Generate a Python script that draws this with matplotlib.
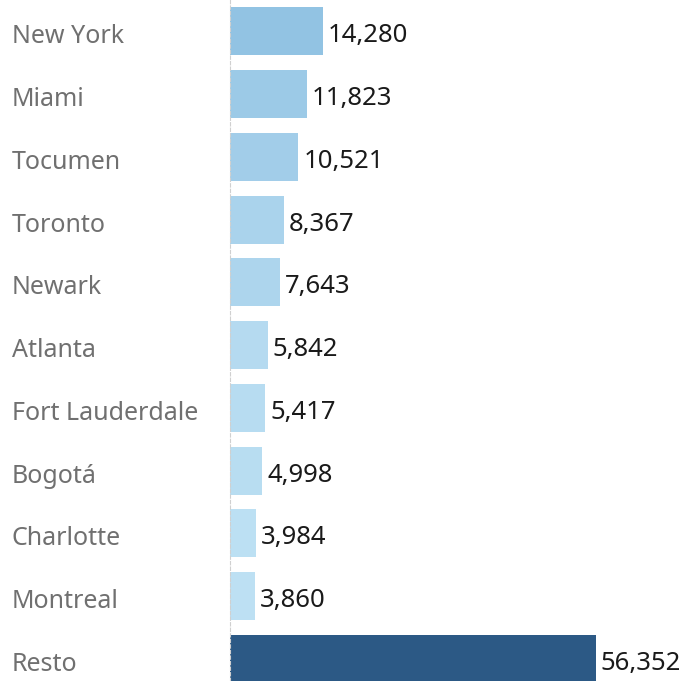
import matplotlib.pyplot as plt
import matplotlib.colors as mcolors
import numpy as np

cities = ['New York', 'Miami', 'Tocumen', 'Toronto', 'Newark', 'Atlanta',
          'Fort Lauderdale', 'Bogotá', 'Charlotte', 'Montreal', 'Resto']
values = [14280, 11823, 10521, 8367, 7643, 5842, 5417, 4998, 3984, 3860, 56352]

plt.rcParams['font.family'] = ['Noto Sans', 'DejaVu Sans']

fig = plt.figure(figsize=(6.85, 6.81), dpi=100)
ax = fig.add_axes([230 / 685, 0, 455 / 685, 1])

# light blue shades grow darker with value, "Resto" in dark blue
light = mcolors.to_rgb('#bde0f3')
dark = mcolors.to_rgb('#92c3e3')
vmin, vmax = min(values[:-1]), max(values[:-1])
colors = []
for c, v in zip(cities, values):
    if c == 'Resto':
        colors.append('#2c5985')
    else:
        t = (v - vmin) / (vmax - vmin)
        colors.append(tuple(l + (d - l) * t for l, d in zip(light, dark)))

y = np.arange(len(cities))
ax.barh(y, values, height=0.765, color=colors)

ax.set_xlim(0, 70050)
ax.set_ylim(-0.5 + 681 / 62.75, -0.5)

for yi, v in zip(y, values):
    ax.text(v + 750, yi + 0.07, f'{v:,}', va='center', ha='left', fontsize=18.5,
            color='#1a1a1a')

ax.set_yticks(y + 0.04)
ax.set_yticklabels(cities, fontsize=18, color='#707070')
ax.tick_params(axis='y', length=0, pad=0)
for lbl in ax.get_yticklabels():
    lbl.set_horizontalalignment('left')
    lbl.set_x(-218 / 455)
ax.set_xticks([])

for s in ['top', 'right', 'bottom']:
    ax.spines[s].set_visible(False)
ax.spines['left'].set_color('#d0d0d0')
ax.spines['left'].set_linestyle((0, (3, 2)))
ax.spines['left'].set_linewidth(0.8)

fig.savefig('out.png', dpi=100)
